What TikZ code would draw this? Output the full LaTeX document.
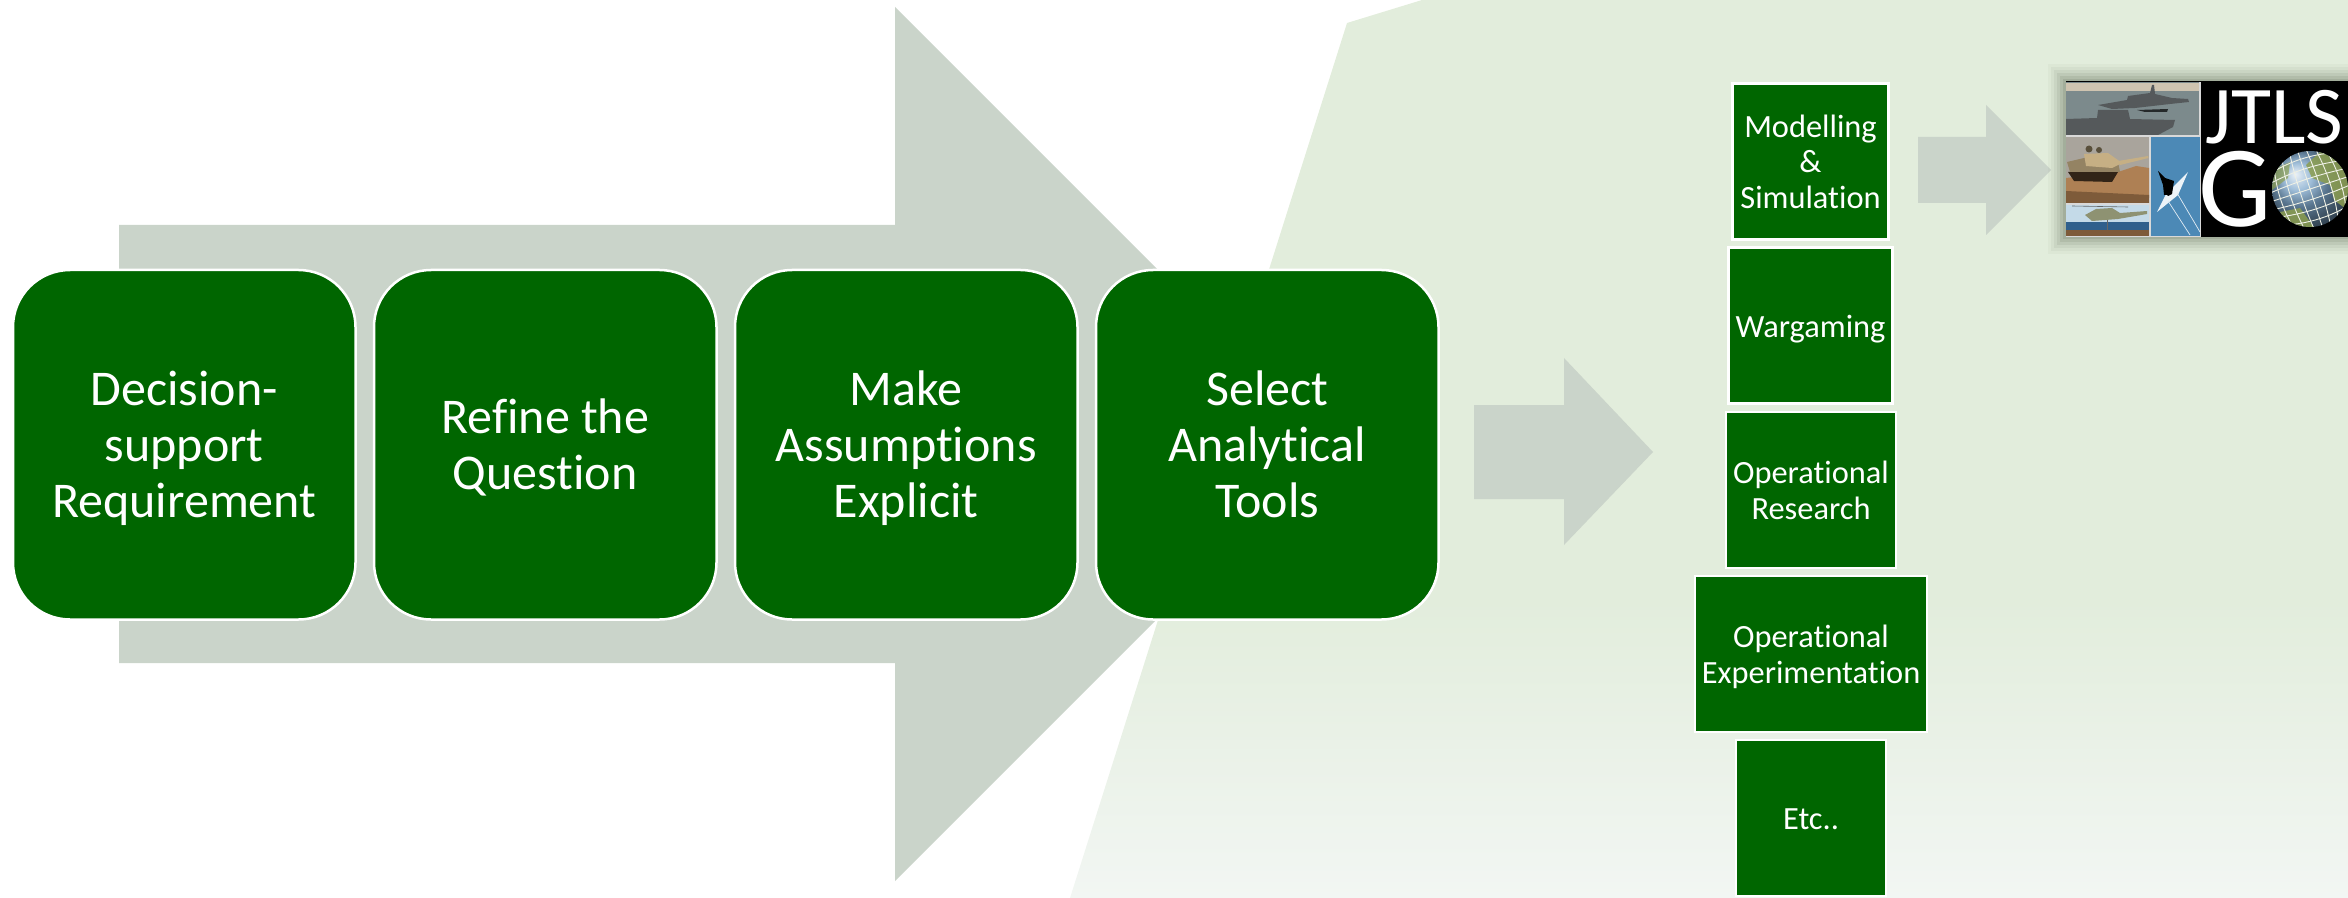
\documentclass[tikz,border=0pt]{standalone}
\usepackage{fontspec}
\setmainfont{Carlito}[Ligatures=NoCommon]
\definecolor{leaf}{HTML}{006600}
\definecolor{arrowgrey}{HTML}{CAD4CA}
\definecolor{regiongreen}{HTML}{E2EDDC}
\definecolor{regionpale}{HTML}{F2F6F3}
\definecolor{glowgrey}{HTML}{6E7A66}
\definecolor{skysand}{HTML}{CFC4B0}
\definecolor{seagrey}{HTML}{7C8A8C}
\definecolor{shipdark}{HTML}{55595B}
\definecolor{tanksky}{HTML}{A9A49C}
\definecolor{tankbody}{HTML}{C6AF84}
\definecolor{dust}{HTML}{AE8054}
\definecolor{earth}{HTML}{7E5B3A}
\definecolor{helisky}{HTML}{C4DAE8}
\definecolor{heliSea}{HTML}{2F5F8C}
\definecolor{helibody}{HTML}{8E9272}
\definecolor{jetsky}{HTML}{4C89B6}
\definecolor{globeblue}{HTML}{7FA8CC}
\definecolor{globeland}{HTML}{8C9E50}
\pgfdeclareverticalshading{regionfade}{100bp}{color(0bp)=(regionpale); color(25bp)=(regionpale); color(41.6bp)=(regiongreen); color(100bp)=(regiongreen)}
\newcommand{\bigline}{\rule[-5.4pt]{0pt}{28pt}}
\newcommand{\toolline}{\rule[-3.05pt]{0pt}{17.6pt}}
\tikzset{
  x=0.5pt,y=-0.5pt,
  bigstep/.style={draw=white,line width=1.25pt,fill=leaf,text=white,rounded corners=28.5pt,inner sep=0pt,
    minimum width=171.25pt,minimum height=174.75pt,align=center,font=\fontsize{25}{28}\selectfont},
  toolbox/.style={draw=white,line width=1.4pt,fill=leaf,text=white,inner sep=0pt,align=center,
    font=\fontsize{16.2}{17.6}\selectfont},
  flowarrow/.style={fill=arrowgrey,draw=none},
  logotext/.style={text=white,inner sep=0pt,anchor=base west}
}
\begin{document}
\begin{tikzpicture}
\useasboundingbox (0,0) rectangle (2348,898);
\clip (0,0) rectangle (2348,898);
% pale region
\shade[shading=regionfade] (1422,0) -- (1347,23) -- (1070,898) -- (2348,898) -- (2348,0) -- cycle;
% flow arrows
\path[flowarrow] (119,225) -- (895,225) -- (895,7) -- (1332,444) -- (895,881) -- (895,663) -- (119,663) -- cycle;
\path[flowarrow] (1474,405) -- (1564,405) -- (1564,358) -- (1653,452) -- (1564,545) -- (1564,499) -- (1474,499) -- cycle;
\path[flowarrow] (1918,137) -- (1986,137) -- (1986,105) -- (2051,170) -- (1986,235) -- (1986,203) -- (1918,203) -- cycle;
% process steps
\node[bigstep] (decision) at (184.25,444.75) {\bigline Decision-\\support\\\bigline Requirement};
\node[bigstep] (refine) at (545.25,444.75) {\bigline Refine the\\\bigline Question};
\node[bigstep] (assume) at (906.25,444.75) {\bigline Make\\Assumptions\\\bigline Explicit};
\node[bigstep] (select) at (1267.25,444.75) {\bigline Select\\Analytical\\\bigline Tools};
% analytical tools
\node[toolbox,minimum width=78pt,minimum height=78pt] (model) at (1810.5,161.5) {\toolline Modelling\\\&\\\toolline Simulation};
\node[toolbox,minimum width=82pt,minimum height=78pt] (wargame) at (1810.5,325.5) {\toolline Wargaming};
\node[toolbox,minimum width=85pt,minimum height=78pt] (research) at (1811,490) {\toolline Operational\\\toolline Research};
\node[toolbox,minimum width=116pt,minimum height=78pt] (experiment) at (1811,654) {\toolline Operational\\\toolline Experimentation};
\node[toolbox,minimum width=75pt,minimum height=78pt] (etc) at (1811,818) {\toolline Etc..};
% logo glow
\foreach \g/\o in {18/0.05,15/0.07,12/0.09,9/0.12,6/0.16,3/0.2}{
  \fill[glowgrey,opacity=\o] (2066-\g,82-\g) rectangle (2370,236+\g);
}
% logo panels
\fill[black] (2066,81) rectangle (2348,237);
\fill[white!70!gray] (2066,82) rectangle (2201,237);
% ship photo
\fill[seagrey] (2066,82) rectangle (2199,135);
\fill[skysand] (2066,83) rectangle (2199,91);
\fill[shipdark] (2098,105) -- (2127,100) -- (2128,96) -- (2150,93) -- (2152,85) -- (2154,85) -- (2155,94) -- (2172,98) -- (2188,99) -- (2189,102) -- (2170,104) -- (2135,108) -- (2112,109) -- cycle;
\fill[black!70!seagrey] (2137,110) -- (2168,109) -- (2167,112) -- (2145,112) -- cycle;
\fill[shipdark] (2066,119) -- (2097,118) -- (2098,110) -- (2128,110) -- (2130,119) -- (2175,120) -- (2173,127) -- (2158,135) -- (2066,135) -- cycle;
% tank photo
\fill[tanksky] (2066,137) rectangle (2149,203);
\fill[dust] (2066,178) -- (2118,172) -- (2136,166) -- (2149,168) -- (2149,198) -- (2066,194) -- cycle;
\fill[earth] (2066,191) -- (2149,195) -- (2149,203) -- (2066,203) -- cycle;
\fill[black!60!earth] (2068,172) -- (2118,172) -- (2112,182) -- (2074,181) -- cycle;
\fill[black!25!tankbody] (2067,162) -- (2084,158) -- (2118,162) -- (2120,172) -- (2070,172) -- cycle;
\fill[tankbody] (2084,154) -- (2108,153) -- (2122,163) -- (2112,168) -- (2086,166) -- cycle;
\fill[tankbody] (2118,161) -- (2148,156) -- (2148.5,158) -- (2120,165) -- cycle;
\fill[black!55!tankbody] (2089,149) circle[radius=3.5];
\fill[black!55!tankbody] (2099,150) circle[radius=3];
% helicopter photo
\fill[helisky] (2066,205) rectangle (2149,222);
\fill[heliSea] (2066,222) rectangle (2149,230);
\fill[earth] (2066,230) rectangle (2149,236);
\fill[helibody] (2085,215) -- (2096,209) -- (2112,208) -- (2120,213) -- (2147,211) -- (2147,214) -- (2118,219) -- (2092,221) -- cycle;
\draw[black!60,line width=0.3pt] (2072,206) -- (2128,207);
\draw[black!60,line width=0.3pt] (2107,220) -- (2107,230);
% jet photo
\fill[jetsky] (2151,137) rectangle (2200,236);
\fill[white!90!jetsky] (2188,172) -- (2178,195) -- (2157,212) -- (2166,194) -- cycle;
\draw[white!85!jetsky,line width=0.35pt] (2168,201) -- (2190,235);
\draw[white!85!jetsky,line width=0.35pt] (2177,193) -- (2200,232);
\fill[black] (2158,171) -- (2165,178) -- (2174,181) -- (2172,194) -- (2168,196) -- (2167,195) -- (2164,195) -- (2163,185) -- cycle;
% wordmark
\node[logotext,font=\fontsize{41}{41}\selectfont] (jtls) at (2205,144) {JTLS};
\node[logotext,font=\fontsize{58}{58}\selectfont] (g) at (2198,227) {G};
% globe
\begin{scope}
  \clip (2310,189) circle[radius=38];
  \shade[ball color=globeblue] (2310,189) circle[radius=38];
  \fill[globeland,opacity=.85] (2322,150) -- (2350,165) -- (2350,212) -- (2334,200) -- (2330,185) -- (2312,178) -- (2306,165) -- cycle;
  \fill[globeland,opacity=.7] (2272,170) -- (2290,162) -- (2288,178) -- (2272,190) -- cycle;
  \fill[globeland,opacity=.85] (2280,212) -- (2300,208) -- (2316,230) -- (2290,228) -- cycle;
  \begin{scope}[rotate around={18:(2310,189)}]
    \foreach \r in {-32,-24,-16,-8,0,8,16,24,32}{
      \draw[white!85!globeland,line width=0.45pt] (2310+\r,145) .. controls (2310+1.4*\r,175) and (2310+1.4*\r,205) .. (2310+\r,233);
      \draw[white!85!globeland,line width=0.45pt] (2266,189+\r) .. controls (2296,189+1.4*\r) and (2326,189+1.4*\r) .. (2354,189+\r);
    }
  \end{scope}
\end{scope}
\end{tikzpicture}
\end{document}
